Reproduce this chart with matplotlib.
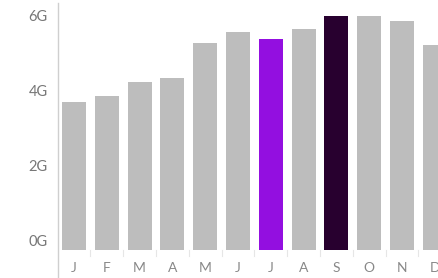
import matplotlib
matplotlib.use("Agg")
import matplotlib.pyplot as plt

# monthly values (in G)
months = ["J", "F", "M", "A", "M", "J", "J", "A", "S", "O", "N", "D"]
values = [3.96, 4.12, 4.49, 4.60, 5.53, 5.83, 5.64, 5.91, 6.26, 6.26, 6.12, 5.48]
colors = ["#bdbdbd"] * 12
colors[6] = "#930fe0"
colors[8] = "#28002f"
yticks = [0, 2, 4, 6]
ylabels = ["0G", "2G", "4G", "6G"]

plt.rcParams["font.family"] = ["Lato", "DejaVu Sans"]

fig = plt.figure(figsize=(4.38, 2.78), dpi=100)
# axes spans from x=58px to the right edge, y=3px to the bottom
ax = fig.add_axes([58 / 438, 0, 380 / 438, 275 / 278])

x = list(range(len(months)))
ax.bar(x, values, width=0.73, color=colors, zorder=2)

px_per_g = 37.4
ax.set_ylim(-28 / px_per_g, 247 / px_per_g)
ax.set_xlim(-0.49, 11.1)

for s in ["top", "right", "bottom"]:
    ax.spines[s].set_visible(False)
ax.spines["left"].set_color("#cfcfcf")
ax.spines["left"].set_linewidth(1.0)

ax.set_xticks([])
ax.set_yticks([])

# y labels sit just above their value
for v, lab in zip(yticks, ylabels):
    ax.text(-0.8, v + 0.04, lab, ha="right", va="bottom", fontsize=10.5,
            color="#777777", clip_on=False)

# month labels under the bars
for i, m in enumerate(months):
    ax.text(i, -0.48, m, ha="center", va="center", fontsize=10,
            color="#888888")

# faint separators between categories
for i in range(len(months)):
    ax.plot([i + 0.5, i + 0.5], [0, -0.15], color="#e6e6e6", lw=0.8, zorder=1)

fig.savefig("out.png", dpi=100)
